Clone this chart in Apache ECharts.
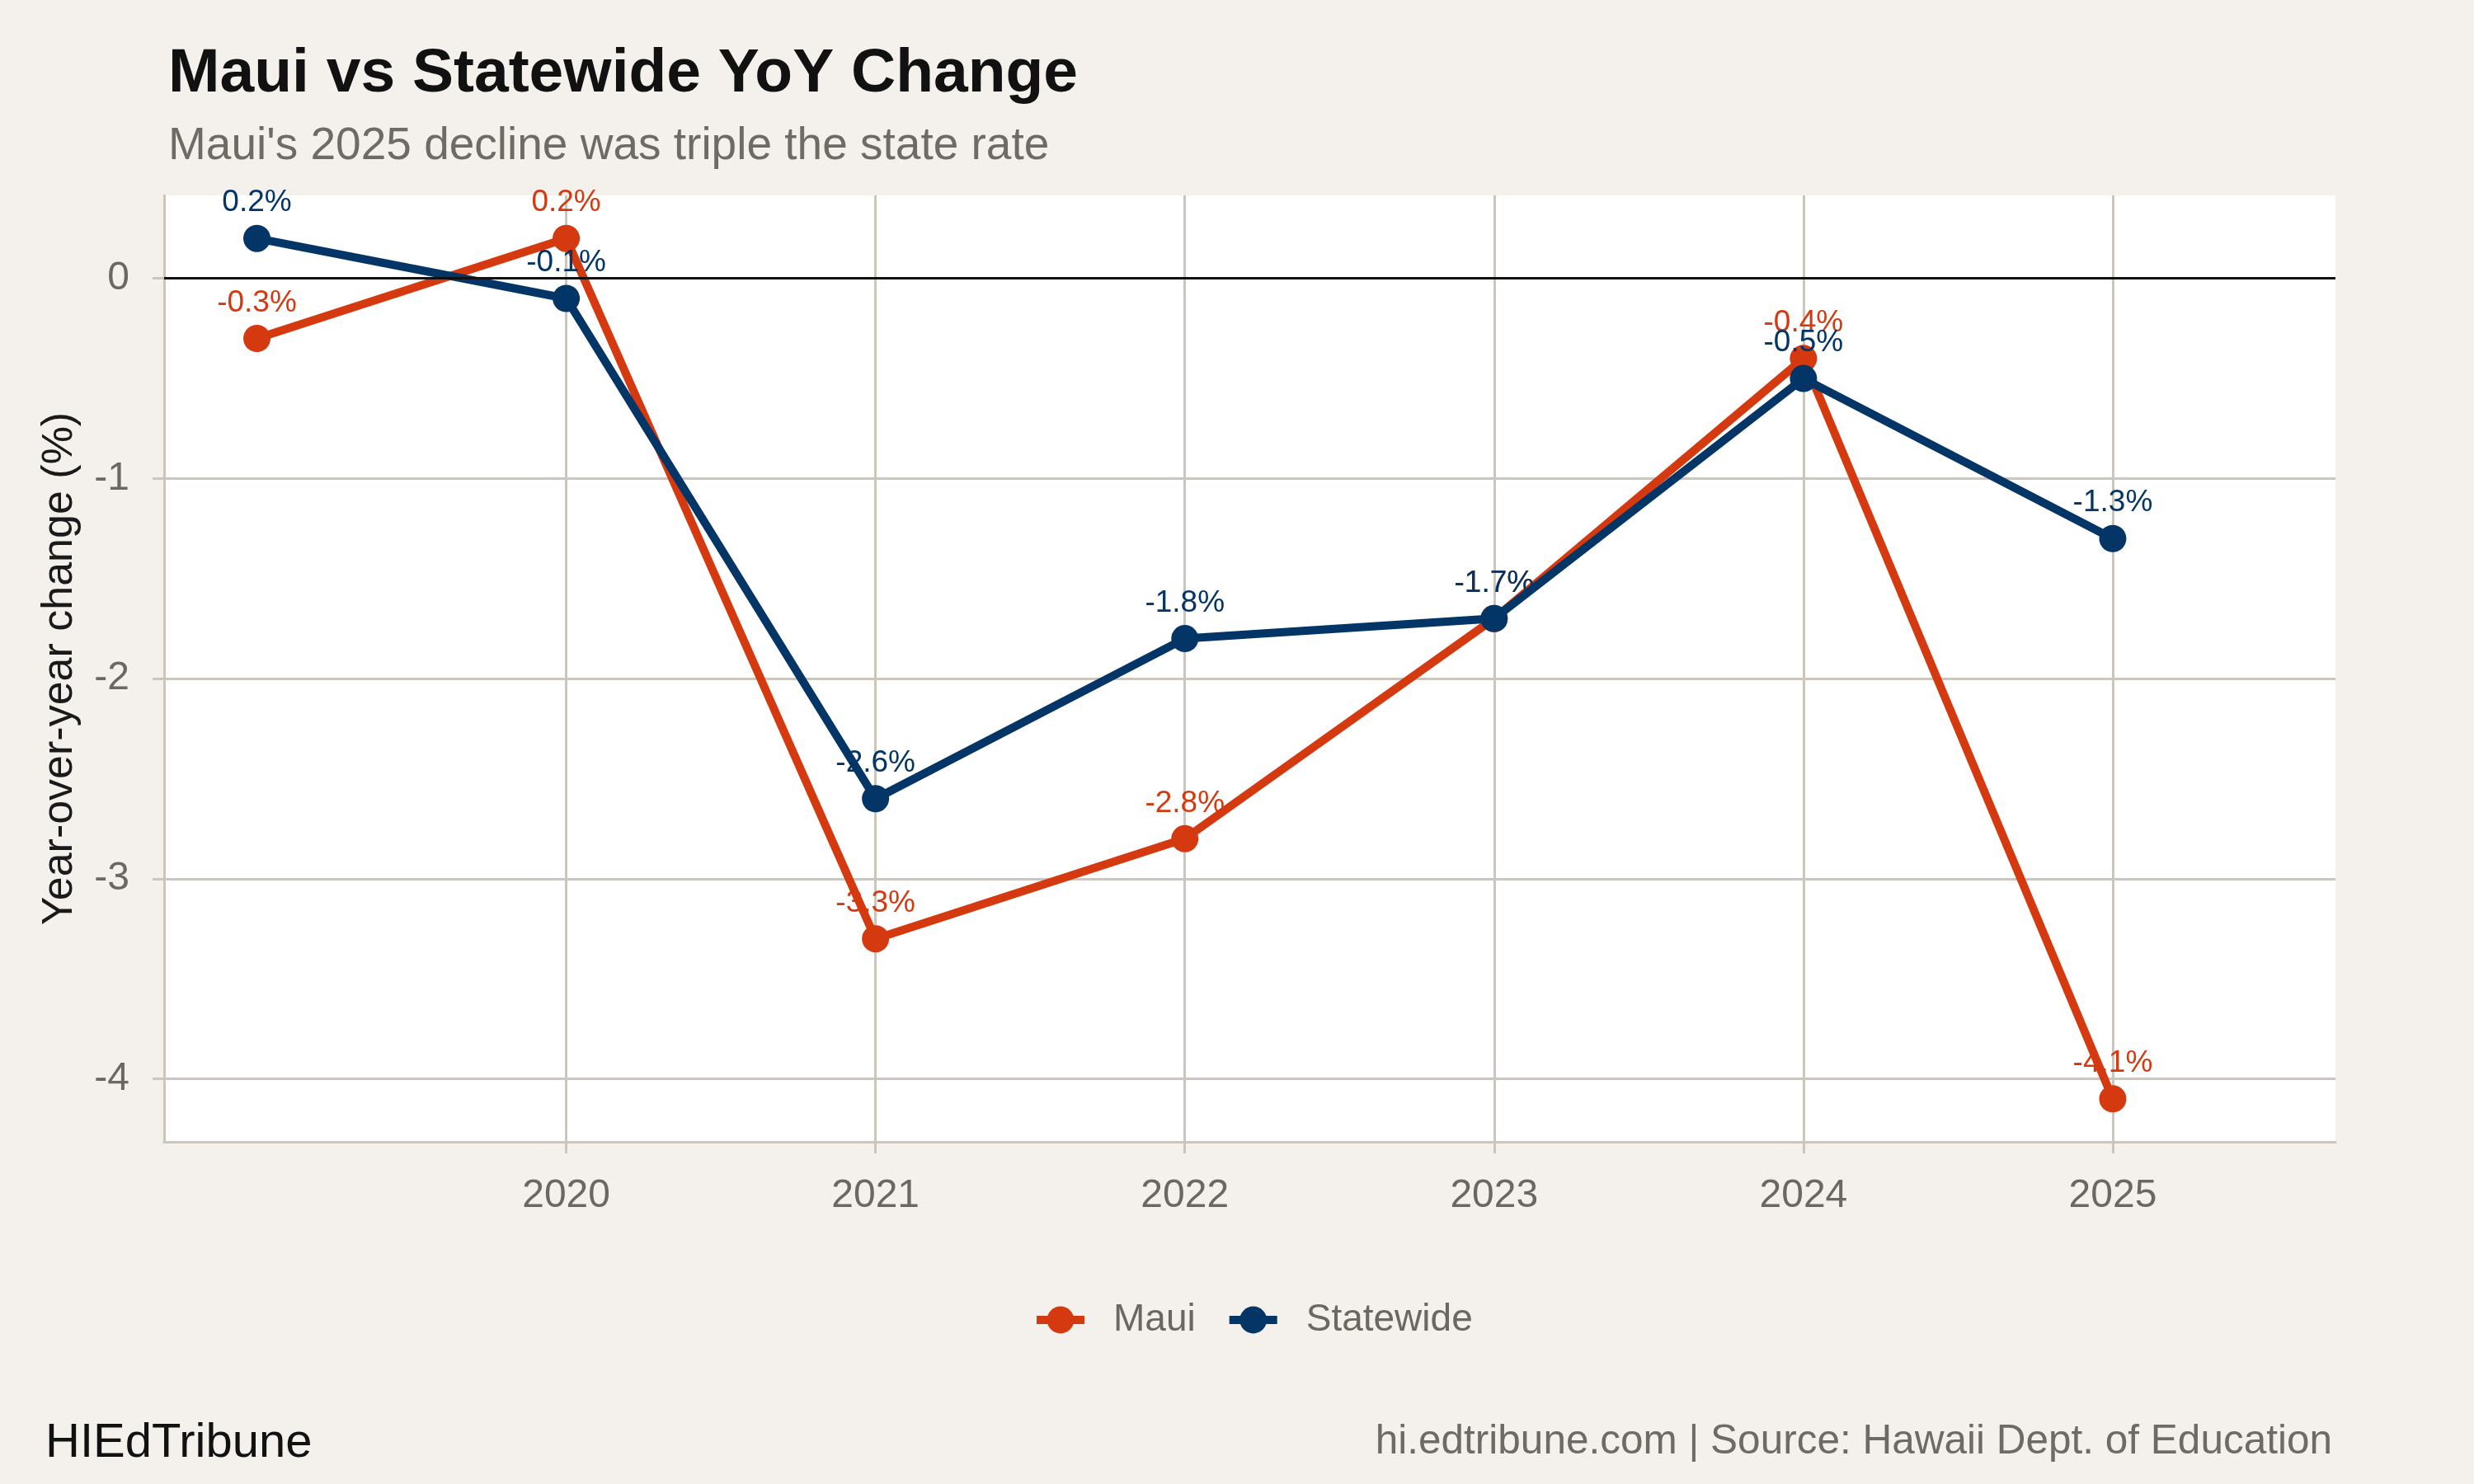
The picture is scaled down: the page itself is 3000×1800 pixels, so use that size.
<!DOCTYPE html>
<html>
<head>
<meta charset="utf-8">
<script src="https://cdn.jsdelivr.net/npm/echarts@6/dist/echarts.min.js"></script>
<style>
html,body{margin:0;padding:0;background:#f4f1ec;}
#chart{width:3000px;height:1800px;}
</style>
</head>
<body>
<div id="chart"></div>
<script>
const years = [2019, 2020, 2021, 2022, 2023, 2024, 2025];
const mauiValues = [-0.3, 0.2, -3.3, -2.8, -1.7, -0.4, -4.1];
const statewideValues = [0.2, -0.1, -2.6, -1.8, -1.7, -0.5, -1.3];
const xTickYears = [2020, 2021, 2022, 2023, 2024, 2025];
const yTicks = [-4, -3, -2, -1, 0];

const FONT = '"Liberation Sans", Arial, Helvetica, sans-serif';
const MAUI = '#d4390f';
const STATE = '#033566';
const GRID = '#cbc5bc';
const TICKTXT = '#6b6862';

function pairs(vals){ return years.map((y,i)=>[y, vals[i]]); }
function lbl(color){
  return {
    show: true, position: 'top', distance: 8,
    color: color, fontFamily: FONT, fontSize: 37,
    formatter: p => p.value[1].toFixed(1) + '%'
  };
}

const chart = echarts.init(document.getElementById('chart'));
chart.setOption({
  animation: false,
  backgroundColor: '#f4f1ec',
  title: [
    { text: 'Maui vs Statewide YoY Change', left: 199, top: 48,
      textStyle: { fontFamily: FONT, fontSize: 75, fontWeight: 'bold', color: '#111' } },
    { text: "Maui's 2025 decline was triple the state rate", left: 199, top: 145,
      textStyle: { fontFamily: FONT, fontSize: 55, fontWeight: 'normal', color: '#6e6a64' } },
    { text: 'HIEdTribune', left: 50, top: 1717,
      textStyle: { fontFamily: FONT, fontSize: 58, fontWeight: 'normal', color: '#111' } },
    { text: 'hi.edtribune.com | Source: Hawaii Dept. of Education', right: 167, top: 1719,
      textStyle: { fontFamily: FONT, fontSize: 49.5, fontWeight: 'normal', color: '#6e6a64' } }
  ],
  grid: { left: 199, right: 168, top: 237, bottom: 415, show: true, backgroundColor: '#ffffff', borderWidth: 0 },
  legend: {
    top: 1573, left: 1247,
    itemWidth: 58, itemHeight: 41, itemGap: 36,
    lineStyle: { width: 10 },
    textStyle: { fontFamily: FONT, fontSize: 46, color: TICKTXT, padding: [0,0,0,30] },
    data: ['Maui', 'Statewide']
  },
  xAxis: {
    type: 'value', min: 2018.7, max: 2025.72,
    axisLine: { show: true, onZero: false, lineStyle: { color: GRID, width: 3 } },
    axisTick: { show: true, length: 14, customValues: xTickYears, lineStyle: { color: GRID, width: 3 } },
    axisLabel: { customValues: xTickYears, margin: 42, fontFamily: FONT, fontSize: 48, color: TICKTXT,
      formatter: v => String(v) },
    splitLine: { show: true, lineStyle: { color: GRID, width: 3 } }
  },
  yAxis: {
    type: 'value', min: -4.315, max: 0.415,
    name: 'Year-over-year change (%)', nameLocation: 'middle', nameGap: 100,
    nameTextStyle: { fontFamily: FONT, fontSize: 52, color: '#1a1a1a' },
    axisLine: { show: true, lineStyle: { color: GRID, width: 3 } },
    axisTick: { show: true, length: 14, customValues: yTicks, lineStyle: { color: GRID, width: 3 } },
    axisLabel: { customValues: yTicks, margin: 42, fontFamily: FONT, fontSize: 48, color: TICKTXT,
      formatter: v => String(v) },
    splitLine: { show: true, lineStyle: { color: GRID, width: 3 } }
  },
  series: [
    {
      name: 'Maui', type: 'line', data: pairs(mauiValues),
      symbol: 'circle', symbolSize: 33,
      lineStyle: { color: MAUI, width: 10 }, itemStyle: { color: MAUI },
      label: lbl(MAUI),
      markLine: { silent: true, symbol: 'none', label: { show: false },
        lineStyle: { color: '#111', width: 3, type: 'solid' }, data: [{ yAxis: 0 }] },
      z: 3
    },
    {
      name: 'Statewide', type: 'line', data: pairs(statewideValues),
      symbol: 'circle', symbolSize: 33,
      lineStyle: { color: STATE, width: 10 }, itemStyle: { color: STATE },
      label: lbl(STATE),
      z: 4
    }
  ]
});
</script>
</body>
</html>
